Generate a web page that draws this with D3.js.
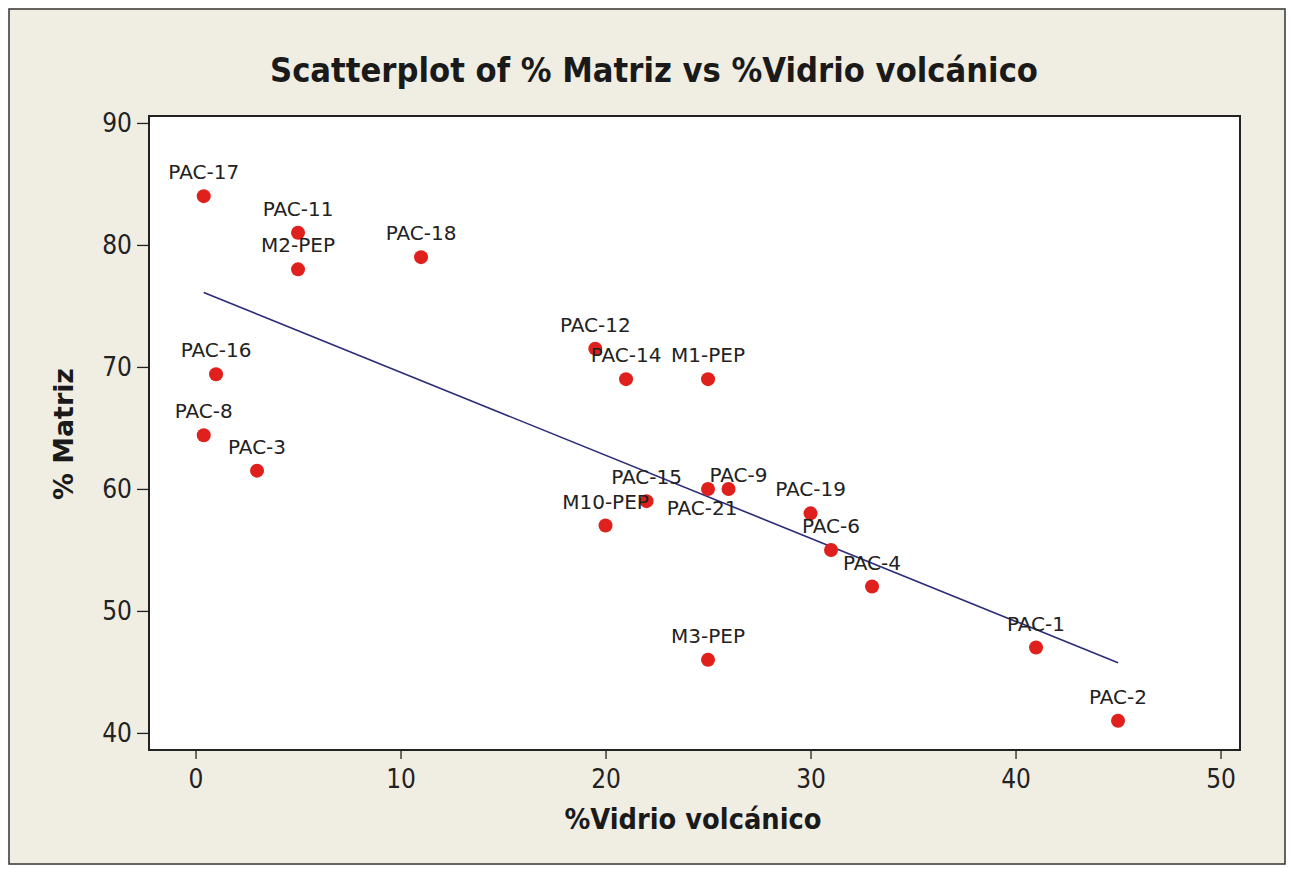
<!DOCTYPE html>
<html>
<head>
<meta charset="utf-8">
<script src="https://cdn.jsdelivr.net/npm/d3@7"></script>
<style>
  body { margin: 0; background: #ffffff; }
  svg text { font-family: "DejaVu Sans", Verdana, sans-serif; }
</style>
</head>
<body>
<svg id="chart" width="1292" height="869"></svg>
<script>
// samples
var names = ["PAC-17", "PAC-11", "M2-PEP", "PAC-18", "PAC-16", "PAC-8", "PAC-3",
             "PAC-12", "PAC-14", "M1-PEP", "PAC-15", "M10-PEP", "PAC-21", "PAC-9",
             "PAC-19", "PAC-6", "PAC-4", "M3-PEP", "PAC-1", "PAC-2"];
var vidrio = [0.4, 5, 5, 11, 1, 0.4, 3, 19.5, 21, 25, 22, 20, 25, 26, 30, 31, 33, 25, 41, 45];
var matriz = [84, 81, 78, 79, 69.4, 64.4, 61.5, 71.5, 69, 69, 59, 57, 60, 60, 58, 55, 52, 46, 47, 41];

// regression line ends, as drawn
var fitX = [0.4, 45];
var fitY = [76.1, 45.75];

var xTicks = [0, 10, 20, 30, 40, 50];
var yTicks = [40, 50, 60, 70, 80, 90];

// labels that Minitab moved off their default spot
var labelNudge = { "PAC-21": [-6, 43], "PAC-9": [10, 10] };

var svg = d3.select("#chart");

svg.append("rect")
    .attr("x", 9).attr("y", 9)
    .attr("width", 1276).attr("height", 855)
    .attr("fill", "#f0eee3")
    .attr("stroke", "#333")
    .attr("stroke-width", 1.5);

var plot = { left: 149, top: 116, right: 1240, bottom: 750 };

var x = d3.scaleLinear().domain([-2.27, 50.95]).range([plot.left, plot.right]);
var y = d3.scaleLinear().domain([38.6, 90.57]).range([plot.bottom, plot.top]);

svg.append("rect")
    .attr("x", plot.left).attr("y", plot.top)
    .attr("width", plot.right - plot.left)
    .attr("height", plot.bottom - plot.top)
    .attr("fill", "#fff");

var xAxis = svg.append("g")
    .attr("transform", "translate(0," + plot.bottom + ")")
    .call(d3.axisBottom(x).tickValues(xTicks).tickSize(9).tickPadding(11).tickSizeOuter(0));

var yAxis = svg.append("g")
    .attr("transform", "translate(" + plot.left + ",0)")
    .call(d3.axisLeft(y).tickValues(yTicks).tickSize(12).tickPadding(5).tickSizeOuter(0));

[xAxis, yAxis].forEach(function (g) {
  g.select(".domain").remove();
  g.selectAll("line").attr("stroke", "#222").attr("stroke-width", 1.3);
  g.selectAll("text")
      .attr("font-family", "DejaVu Sans, Verdana, sans-serif")
      .attr("font-stretch", "condensed")
      .attr("font-size", 26)
      .attr("fill", "#222");
});

svg.append("rect")
    .attr("x", plot.left).attr("y", plot.top)
    .attr("width", plot.right - plot.left)
    .attr("height", plot.bottom - plot.top)
    .attr("fill", "none")
    .attr("stroke", "#222")
    .attr("stroke-width", 2);

var line = d3.line()
    .x(function (d) { return x(d[0]); })
    .y(function (d) { return y(d[1]); });

svg.append("path")
    .datum(d3.zip(fitX, fitY))
    .attr("d", line)
    .attr("fill", "none")
    .attr("stroke", "#2b2b7a")
    .attr("stroke-width", 1.6);

var pts = d3.range(names.length).map(function (i) {
  return { name: names[i], vx: vidrio[i], my: matriz[i] };
});

svg.append("g").selectAll("circle")
    .data(pts).enter()
    .append("circle")
    .attr("cx", function (d) { return x(d.vx); })
    .attr("cy", function (d) { return y(d.my); })
    .attr("r", 7)
    .attr("fill", "#e0201c");

svg.append("g").selectAll("text")
    .data(pts).enter()
    .append("text")
    .attr("x", function (d) {
      var n = labelNudge[d.name];
      return x(d.vx) + (n ? n[0] : 0);
    })
    .attr("y", function (d) {
      var n = labelNudge[d.name];
      return y(d.my) - 17 + (n ? n[1] : 0);
    })
    .attr("text-anchor", "middle")
    .attr("font-size", 20)
    .attr("fill", "#222")
    .text(function (d) { return d.name; });

svg.append("text")
    .attr("x", 654).attr("y", 82)
    .attr("text-anchor", "middle")
    .attr("font-family", "DejaVu Sans, sans-serif")
    .attr("font-stretch", "condensed")
    .attr("font-weight", "bold")
    .attr("font-size", 34)
    .attr("textLength", 768)
    .attr("lengthAdjust", "spacingAndGlyphs")
    .attr("fill", "#1a1a1a")
    .text("Scatterplot of % Matriz vs %Vidrio volcánico");

svg.append("text")
    .attr("x", 693).attr("y", 829)
    .attr("text-anchor", "middle")
    .attr("font-family", "DejaVu Sans, sans-serif")
    .attr("font-stretch", "condensed")
    .attr("font-weight", "bold")
    .attr("font-size", 28)
    .attr("textLength", 257)
    .attr("lengthAdjust", "spacingAndGlyphs")
    .attr("fill", "#1a1a1a")
    .text("%Vidrio volcánico");

svg.append("text")
    .attr("transform", "translate(73,434) rotate(-90)")
    .attr("text-anchor", "middle")
    .attr("font-family", "DejaVu Sans, sans-serif")
    .attr("font-weight", "bold")
    .attr("font-size", 27)
    .attr("textLength", 132)
    .attr("lengthAdjust", "spacingAndGlyphs")
    .attr("fill", "#1a1a1a")
    .text("% Matriz");
</script>
</body>
</html>
